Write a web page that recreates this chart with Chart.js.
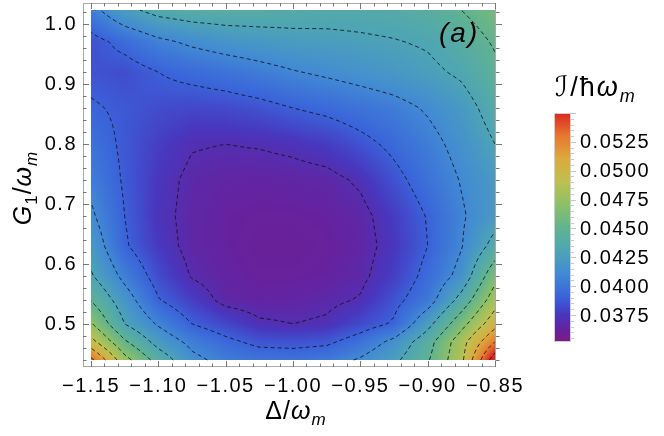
<!DOCTYPE html>
<html>
<head>
<meta charset="utf-8">
<script src="https://cdn.jsdelivr.net/npm/chart.js@4.4.1/dist/chart.umd.min.js"></script>
<style>
  html, body { margin: 0; padding: 0; background: #fff; }
  #wrap { width: 664px; height: 436px; }
</style>
</head>
<body>
<div id="wrap"><canvas id="chart" width="664" height="436"></canvas></div>
<script>
// map grid: Δ/ωm across, G1/ωm up
const deltaVals = [-1.15, -1.125, -1.10, -1.075, -1.05, -1.025, -1.00, -0.975, -0.95, -0.925, -0.90, -0.875, -0.85];
const g1Vals = [0.44, 0.47, 0.50, 0.54, 0.58, 0.63, 0.68, 0.74, 0.80, 0.86, 0.92, 0.97, 1.023];

// I/ħωm, one row per g1Vals entry (bottom to top)
const intensity = [
  [0.0535, 0.0477, 0.0442, 0.0415, 0.0404, 0.0400, 0.0399, 0.0402, 0.0412, 0.0426, 0.0448, 0.0485, 0.0563],
  [0.0497, 0.0453, 0.0423, 0.0405, 0.0394, 0.0386, 0.0385, 0.0387, 0.0398, 0.0415, 0.0442, 0.0482, 0.0530],
  [0.0472, 0.0430, 0.0408, 0.0390, 0.0381, 0.0372, 0.0370, 0.0372, 0.0382, 0.0392, 0.0424, 0.0463, 0.0503],
  [0.0449, 0.0419, 0.0391, 0.0378, 0.0366, 0.0364, 0.0365, 0.0367, 0.0371, 0.0385, 0.0401, 0.0437, 0.0481],
  [0.0432, 0.0405, 0.0383, 0.0369, 0.0364, 0.0362, 0.0362, 0.0363, 0.0367, 0.0378, 0.0395, 0.0416, 0.0464],
  [0.0422, 0.0392, 0.0376, 0.0366, 0.0363, 0.0361, 0.0361, 0.0362, 0.0365, 0.0375, 0.0390, 0.0409, 0.0437],
  [0.0413, 0.0390, 0.0374, 0.0366, 0.0363, 0.0362, 0.0362, 0.0363, 0.0366, 0.0377, 0.0391, 0.0408, 0.0422],
  [0.0405, 0.0388, 0.0375, 0.0367, 0.0365, 0.0364, 0.0365, 0.0366, 0.0372, 0.0385, 0.0398, 0.0411, 0.0422],
  [0.0399, 0.0387, 0.0378, 0.0371, 0.0370, 0.0371, 0.0373, 0.0377, 0.0385, 0.0394, 0.0404, 0.0416, 0.0430],
  [0.0392, 0.0387, 0.0383, 0.0381, 0.0382, 0.0385, 0.0390, 0.0394, 0.0399, 0.0404, 0.0412, 0.0422, 0.0438],
  [0.0385, 0.0383, 0.0390, 0.0395, 0.0399, 0.0404, 0.0409, 0.0413, 0.0417, 0.0421, 0.0426, 0.0433, 0.0446],
  [0.0384, 0.0395, 0.0406, 0.0413, 0.0418, 0.0421, 0.0424, 0.0425, 0.0427, 0.0429, 0.0432, 0.0440, 0.0452],
  [0.0404, 0.0425, 0.0436, 0.0440, 0.0441, 0.0440, 0.0438, 0.0437, 0.0437, 0.0438, 0.0442, 0.0450, 0.0460]
];

const contourLevels = [0.037, 0.039, 0.041, 0.043, 0.045, 0.047, 0.049, 0.051, 0.053, 0.055];
const colorTicks = [0.0375, 0.0400, 0.0425, 0.0450, 0.0475, 0.0500, 0.0525];
const colorMin = 0.03516, colorMax = 0.0550;

// rainbow gradient (purple -> red)
const rainbow = [
  [0.0, 125, 25, 130], [0.06, 100, 35, 160], [0.12, 72, 55, 190], [0.2, 58, 100, 218],
  [0.3, 66, 138, 212], [0.4, 78, 165, 180], [0.5, 97, 179, 143], [0.6, 140, 192, 104],
  [0.7, 190, 192, 80], [0.8, 219, 170, 62], [0.9, 230, 120, 48], [1.0, 218, 40, 34]
];

function colorFor(v) {
  let t = (v - colorMin) / (colorMax - colorMin);
  t = Math.max(0, Math.min(1, t));
  for (let k = 1; k < rainbow.length; k++) {
    if (t <= rainbow[k][0]) {
      const a = rainbow[k - 1], b = rainbow[k];
      const f = (t - a[0]) / (b[0] - a[0]);
      return [a[1] + f * (b[1] - a[1]), a[2] + f * (b[2] - a[2]), a[3] + f * (b[3] - a[3])];
    }
  }
  return rainbow[rainbow.length - 1].slice(1);
}

function findCell(arr, v) {
  let i = 0;
  while (i < arr.length - 2 && v > arr[i + 1]) i++;
  return i;
}

// bilinear reading of the grid
function valueAt(xv, yv) {
  xv = Math.max(deltaVals[0], Math.min(deltaVals[deltaVals.length - 1], xv));
  yv = Math.max(g1Vals[0], Math.min(g1Vals[g1Vals.length - 1], yv));
  const i = findCell(deltaVals, xv), j = findCell(g1Vals, yv);
  const fx = (xv - deltaVals[i]) / (deltaVals[i + 1] - deltaVals[i]);
  const fy = (yv - g1Vals[j]) / (g1Vals[j + 1] - g1Vals[j]);
  const a = intensity[j][i], b = intensity[j][i + 1];
  const c = intensity[j + 1][i], d = intensity[j + 1][i + 1];
  return (a * (1 - fx) + b * fx) * (1 - fy) + (c * (1 - fx) + d * fx) * fy;
}

// contour lines by marching squares on a fine resampling of the grid
const NX = 241, NY = 201;
const xs = [], ys = [];
for (let i = 0; i < NX; i++) xs.push(deltaVals[0] + (deltaVals[deltaVals.length - 1] - deltaVals[0]) * i / (NX - 1));
for (let j = 0; j < NY; j++) ys.push(g1Vals[0] + (g1Vals[g1Vals.length - 1] - g1Vals[0]) * j / (NY - 1));
const F = ys.map(yv => xs.map(xv => valueAt(xv, yv)));

function contourLines(level) {
  const pts = new Map();
  const adj = new Map();
  const addPt = (key, xa, ya, va, xb, yb, vb) => {
    if (!pts.has(key)) {
      const t = (level - va) / (vb - va);
      pts.set(key, { x: xa + t * (xb - xa), y: ya + t * (yb - ya) });
    }
  };
  const link = (a, b) => {
    if (!adj.has(a)) adj.set(a, []);
    if (!adj.has(b)) adj.set(b, []);
    adj.get(a).push(b);
    adj.get(b).push(a);
  };
  for (let j = 0; j < NY - 1; j++) {
    for (let i = 0; i < NX - 1; i++) {
      const bl = F[j][i], br = F[j][i + 1], tr = F[j + 1][i + 1], tl = F[j + 1][i];
      const s = [bl >= level, br >= level, tr >= level, tl >= level];
      const e = [];
      const k0 = 'h' + i + '_' + j, k1 = 'v' + (i + 1) + '_' + j, k2 = 'h' + i + '_' + (j + 1), k3 = 'v' + i + '_' + j;
      if (s[0] !== s[1]) { addPt(k0, xs[i], ys[j], bl, xs[i + 1], ys[j], br); e.push(0); }
      if (s[1] !== s[2]) { addPt(k1, xs[i + 1], ys[j], br, xs[i + 1], ys[j + 1], tr); e.push(1); }
      if (s[3] !== s[2]) { addPt(k2, xs[i], ys[j + 1], tl, xs[i + 1], ys[j + 1], tr); e.push(2); }
      if (s[0] !== s[3]) { addPt(k3, xs[i], ys[j], bl, xs[i], ys[j + 1], tl); e.push(3); }
      const keys = [k0, k1, k2, k3];
      if (e.length === 2) {
        link(keys[e[0]], keys[e[1]]);
      } else if (e.length === 4) {
        const centre = (bl + br + tr + tl) / 4 >= level;
        if (centre === s[0]) { link(k0, k1); link(k2, k3); }
        else { link(k3, k0); link(k1, k2); }
      }
    }
  }
  const used = new Set();
  const lines = [];
  const walk = (start) => {
    const line = [start];
    used.add(start);
    let cur = start;
    while (true) {
      const nb = (adj.get(cur) || []).find(k => !used.has(k));
      if (!nb) break;
      used.add(nb);
      line.push(nb);
      cur = nb;
    }
    if (line.length > 2 && (adj.get(cur) || []).includes(start)) line.push(start);
    return line.map(k => pts.get(k));
  };
  for (const [k, nbs] of adj) if (nbs.length === 1 && !used.has(k)) lines.push(walk(k));
  for (const k of adj.keys()) if (!used.has(k)) lines.push(walk(k));
  return lines.filter(l => l.length > 1);
}

const datasets = [];
contourLevels.forEach(level => {
  contourLines(level).forEach(line => {
    datasets.push({
      data: line,
      showLine: true,
      borderColor: 'rgba(15,15,15,0.85)',
      borderWidth: 1,
      borderDash: [4, 3],
      pointRadius: 0,
      fill: false,
      tension: 0
    });
  });
});

// density map drawn under the contour lines
const heatmapPlugin = {
  id: 'heatmap',
  beforeDatasetsDraw(chart) {
    const { ctx, scales: { x, y } } = chart;
    const left = Math.round(x.getPixelForValue(deltaVals[0]));
    const right = Math.round(x.getPixelForValue(deltaVals[deltaVals.length - 1]));
    const top = Math.round(y.getPixelForValue(g1Vals[g1Vals.length - 1]));
    const bottom = Math.round(y.getPixelForValue(g1Vals[0]));
    const w = right - left, h = bottom - top;
    const off = document.createElement('canvas');
    off.width = w; off.height = h;
    const octx = off.getContext('2d');
    const img = octx.createImageData(w, h);
    for (let r = 0; r < h; r++) {
      const gy = y.getValueForPixel(top + r + 0.5);
      for (let c = 0; c < w; c++) {
        const gx = x.getValueForPixel(left + c + 0.5);
        const col = colorFor(valueAt(gx, gy));
        const p = (r * w + c) * 4;
        img.data[p] = col[0]; img.data[p + 1] = col[1]; img.data[p + 2] = col[2]; img.data[p + 3] = 255;
      }
    }
    octx.putImageData(img, 0, 0);
    ctx.drawImage(off, left, top);
  }
};

function drawParts(ctx, parts, x, y, align) {
  let total = 0;
  parts.forEach(p => { ctx.font = p[1]; total += ctx.measureText(p[0]).width; });
  let cx = align === 'center' ? x - total / 2 : x;
  parts.forEach(p => {
    ctx.font = p[1];
    ctx.fillText(p[0], cx, y + (p[2] || 0));
    cx += ctx.measureText(p[0]).width;
  });
}

// frame with inward ticks, colour bar and the math labels
const framePlugin = {
  id: 'frame',
  beforeDraw(chart) {
    chart.ctx.letterSpacing = '1.5px';
  },
  afterDatasetsDraw(chart) {
    const { ctx, chartArea: a, scales: { x, y } } = chart;
    ctx.save();
    ctx.strokeStyle = '#a8a8a8';
    ctx.lineWidth = 1;
    ctx.strokeRect(a.left + 0.5, a.top + 0.5, a.right - a.left - 1, a.bottom - a.top - 1);
    ctx.strokeStyle = '#777';
    ctx.beginPath();
    for (let k = Math.ceil(x.min / 0.01 - 1e-6); k * 0.01 <= x.max + 1e-9; k++) {
      const v = k * 0.01;
      const major = Math.abs(v / 0.05 - Math.round(v / 0.05)) < 1e-6;
      const len = major ? 6 : 3.5;
      const px = Math.round(x.getPixelForValue(v)) + 0.5;
      ctx.moveTo(px, a.bottom); ctx.lineTo(px, a.bottom - len);
      ctx.moveTo(px, a.top); ctx.lineTo(px, a.top + len);
    }
    for (let k = Math.ceil(y.min / 0.02 - 1e-6); k * 0.02 <= y.max + 1e-9; k++) {
      const v = k * 0.02;
      const major = Math.abs(v / 0.1 - Math.round(v / 0.1)) < 1e-6;
      const len = major ? 6 : 3.5;
      const py = Math.round(y.getPixelForValue(v)) + 0.5;
      ctx.moveTo(a.left, py); ctx.lineTo(a.left + len, py);
      ctx.moveTo(a.right, py); ctx.lineTo(a.right + len, py);
    }
    ctx.stroke();
    ctx.restore();
  },
  afterDraw(chart) {
    const { ctx, chartArea: a } = chart;
    ctx.save();
    ctx.fillStyle = '#000';
    ctx.textBaseline = 'alphabetic';

    // panel tag
    ctx.font = "italic 28px 'Liberation Sans'";
    ctx.letterSpacing = '2px';
    ctx.fillText('(a)', a.right - 57, a.top + 39);
    ctx.letterSpacing = '1px';

    // axis titles
    drawParts(ctx, [
      ['Δ/', "25px 'Liberation Sans'"],
      ['ω', "italic 25px 'Liberation Sans'"],
      ['m', "italic 17px 'Liberation Sans'", 6]
    ], 296, 419, 'center');

    ctx.save();
    ctx.translate(31, 188);
    ctx.rotate(-Math.PI / 2);
    drawParts(ctx, [
      ['G', "italic 25px 'Liberation Sans'"],
      ['1', "17px 'Liberation Sans'", 6],
      ['/', "25px 'Liberation Sans'"],
      ['ω', "italic 25px 'Liberation Sans'"],
      ['m', "italic 17px 'Liberation Sans'", 6]
    ], 0, 0, 'center');
    ctx.restore();

    // colour bar
    const bx = 554, bw = 17, bTop = 113, bBot = 342;
    const grad = ctx.createLinearGradient(0, bBot, 0, bTop);
    rainbow.forEach(s => grad.addColorStop(s[0], 'rgb(' + s[1] + ',' + s[2] + ',' + s[3] + ')'));
    ctx.fillStyle = grad;
    ctx.fillRect(bx, bTop, bw, bBot - bTop);
    ctx.strokeStyle = '#d0d0d0';
    ctx.lineWidth = 1;
    ctx.strokeRect(bx + 0.5, bTop + 0.5, bw - 1, bBot - bTop - 1);
    const cbY = v => bBot - (v - colorMin) / (colorMax - colorMin) * (bBot - bTop);
    ctx.strokeStyle = '#c8c8c8';
    ctx.beginPath();
    for (let k = Math.ceil(colorMin / 0.0005); k * 0.0005 <= colorMax; k++) {
      const py = Math.round(cbY(k * 0.0005)) + 0.5;
      const major = k % 5 === 0;
      ctx.moveTo(bx + bw, py); ctx.lineTo(bx + bw + (major ? 5 : 3), py);
    }
    ctx.stroke();
    ctx.fillStyle = '#000';
    ctx.font = "20px 'Liberation Sans'";
    ctx.letterSpacing = '1.5px';
    ctx.textBaseline = 'middle';
    colorTicks.forEach(v => ctx.fillText(v.toFixed(4), 580, cbY(v) + 1));

    ctx.textBaseline = 'alphabetic';
    ctx.letterSpacing = '2px';
    drawParts(ctx, [
      ['ℐ', "italic 28px 'DejaVu Sans'"],
      ['/ħ', "27px 'Liberation Sans'"],
      ['ω', "italic 27px 'Liberation Sans'"],
      ['m', "italic 18px 'Liberation Sans'", 6]
    ], 555, 96, 'left');
    ctx.restore();
  }
};

const tickFont = { family: 'Liberation Sans', size: 20 };

new Chart(document.getElementById('chart'), {
  type: 'scatter',
  data: { datasets: datasets },
  options: {
    responsive: false,
    animation: false,
    events: [],
    layout: { padding: { top: 3, right: 168, left: 0, bottom: 0 } },
    plugins: { legend: { display: false }, tooltip: { enabled: false } },
    scales: {
      x: {
        type: 'linear',
        min: -1.15594,
        max: -0.84926,
        afterFit: s => { s.height = 69; s.paddingLeft = 0; s.paddingRight = 0; },
        grid: { display: false, drawTicks: false },
        border: { display: false },
        ticks: {
          stepSize: 0.05,
          includeBounds: false,
          autoSkip: false,
          maxRotation: 0,
          padding: 7,
          color: '#000',
          font: tickFont,
          callback: v => (v < 0 ? '\u2212' : '') + Math.abs(v).toFixed(2)
        }
      },
      y: {
        type: 'linear',
        min: 0.42833,
        max: 1.035,
        afterFit: s => { s.width = 83; s.paddingTop = 0; s.paddingBottom = 0; },
        grid: { display: false, drawTicks: false },
        border: { display: false },
        ticks: {
          stepSize: 0.1,
          includeBounds: false,
          padding: 6,
          color: '#000',
          font: tickFont,
          callback: v => v.toFixed(1)
        }
      }
    }
  },
  plugins: [heatmapPlugin, framePlugin]
});
</script>
</body>
</html>
